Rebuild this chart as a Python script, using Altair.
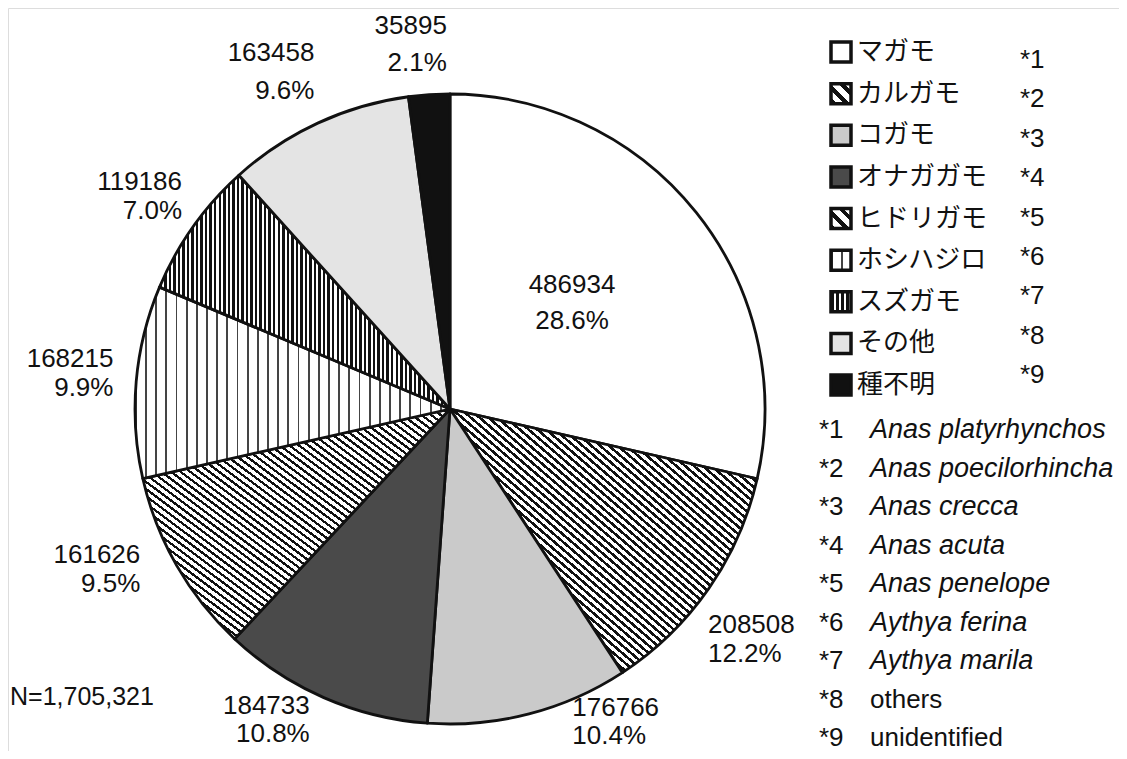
import math
import altair as alt
import pandas as pd

# ---------------- data ----------------
species_ja = ["マガモ", "カルガモ", "コガモ", "オナガガモ", "ヒドリガモ",
              "ホシハジロ", "スズガモ", "その他", "種不明"]
counts = [486934, 208508, 176766, 184733, 161626, 168215, 119186, 163458, 35895]
note_marks = ["*1", "*2", "*3", "*4", "*5", "*6", "*7", "*8", "*9"]
sci_names = ["Anas platyrhynchos", "Anas poecilorhincha", "Anas crecca",
             "Anas acuta", "Anas penelope", "Aythya ferina", "Aythya marila",
             "others", "unidentified"]
sci_italic = [True, True, True, True, True, True, True, False, False]

total = sum(counts)

# ---------------- styling helpers ----------------
def stripe_grad(n, frac, dark, light, x1, y1, x2, y2):
    stops = []
    for i in range(n):
        a = round(i / n, 5)
        b = round((i + frac) / n, 5)
        c = round((i + 1) / n, 5)
        stops += [{"offset": a, "color": dark}, {"offset": b, "color": dark},
                  {"offset": b, "color": light}, {"offset": c, "color": light}]
    return {"gradient": "linear", "x1": x1, "y1": y1, "x2": x2, "y2": y2,
            "stops": stops}

slice_fill = {
    "マガモ": "#ffffff",
    "カルガモ": stripe_grad(70, 0.45, "#111111", "#ffffff", 0, 1, 1, 0),
    "コガモ": "#cacaca",
    "オナガガモ": "#4a4a4a",
    "ヒドリガモ": stripe_grad(64, 0.40, "#111111", "#ffffff", 0, 1, 1, 0),
    "ホシハジロ": stripe_grad(31, 0.18, "#444444", "#ffffff", 0, 0, 1, 0),
    "スズガモ": stripe_grad(64, 0.55, "#111111", "#ffffff", 0, 0, 1, 0),
    "その他": "#e4e4e4",
    "種不明": "#111111",
}
legend_fill = {
    "マガモ": "#ffffff",
    "カルガモ": stripe_grad(3, 0.45, "#111111", "#ffffff", 0, 1, 1, 0),
    "コガモ": "#cacaca",
    "オナガガモ": "#4a4a4a",
    "ヒドリガモ": stripe_grad(3, 0.40, "#111111", "#ffffff", 0, 1, 1, 0),
    "ホシハジロ": stripe_grad(2, 0.25, "#444444", "#ffffff", 0, 0, 1, 0),
    "スズガモ": stripe_grad(4, 0.55, "#111111", "#ffffff", 0, 0, 1, 0),
    "その他": "#e4e4e4",
    "種不明": "#111111",
}
# label layout: radius from centre, offsets, line height, alignment
label_layout = {
    "マガモ": (160, -3, -24, 36, "center"),
    "カルガモ": (330, -13, 28, 29, "left"),
    "コガモ": (320, 42, -11, 28, "left"),
    "オナガガモ": (330, -8, -5, 28, "right"),
    "ヒドリガモ": (380, 20, -43, 29, "right"),
    "ホシハジロ": (380, 42, -17, 29, "right"),
    "スズガモ": (380, 42, -7, 29, "right"),
    "その他": (380, 24, -11, 38, "right"),
    "種不明": (380, 22, -4, 37, "right"),
}

CX, CY, R = 442, 401, 315
NUM_FONT = "Liberation Sans, Arial, sans-serif"
LAT_FONT = "Liberation Sans, Arial, sans-serif"
JA_FONT = "Noto Sans CJK JP"

df = pd.DataFrame({
    "species": species_ja,
    "count": counts,
    "order": list(range(len(species_ja))),
})
df["label"] = [f"{c}\n{c / total * 100:.1f}%" for c in counts]

theta_scale = alt.Scale(domain=[0, total], range=[0, 2 * math.pi])

base = alt.Chart(df).transform_window(
    cum="sum(count)", sort=[alt.SortField("order")], frame=[None, 0]
).transform_calculate(
    start="datum.cum - datum.count",
    mid="datum.cum - datum.count / 2",
)

layers = []
for i, sp in enumerate(species_ja):
    layers.append(
        base.transform_filter(alt.datum.order == i).mark_arc(
            outerRadius=R, fill=slice_fill[sp], stroke="#111111",
            strokeWidth=2.8, strokeJoin="round"
        ).encode(
            theta=alt.Theta("start:Q", scale=theta_scale),
            theta2="cum:Q",
            x=alt.value(CX), y=alt.value(CY),
        )
    )

for i, sp in enumerate(species_ja):
    r, dx, dy, lh, al = label_layout[sp]
    layers.append(
        base.transform_filter(alt.datum.order == i).mark_text(
            radius=r, dx=dx, dy=dy, lineBreak="\n", lineHeight=lh,
            font=NUM_FONT, fontSize=26, color="#111111",
            align=al, baseline="middle"
        ).encode(
            theta=alt.Theta("mid:Q", scale=theta_scale),
            text="label:N",
            x=alt.value(CX), y=alt.value(CY),
        )
    )

# N label
ndf = pd.DataFrame({"txt": [f"N={total:,}"]})
layers.append(
    alt.Chart(ndf).mark_text(font=NUM_FONT, fontSize=25, color="#111111",
                             align="left", baseline="middle").encode(
        text="txt:N", x=alt.value(2), y=alt.value(689)
    )
)

# Japanese legend
leg_scale = alt.Scale(domain=[0, 8], range=[44, 377])
leg_df = pd.DataFrame({"species": species_ja, "order": list(range(9))})
for i, sp in enumerate(species_ja):
    layers.append(
        alt.Chart(leg_df).transform_filter(alt.datum.order == i).mark_square(
            size=400, fill=legend_fill[sp], stroke="#111111", strokeWidth=3.5,
            opacity=1
        ).encode(
            x=alt.value(833),
            y=alt.Y("order:Q", scale=leg_scale, axis=None),
        )
    )
layers.append(
    alt.Chart(leg_df).mark_text(font=JA_FONT, fontSize=26, align="left",
                                baseline="middle", color="#111111").encode(
        x=alt.value(849),
        y=alt.Y("order:Q", scale=leg_scale, axis=None),
        text="species:N",
    )
)

# *n column beside legend
mark_df = pd.DataFrame({"mark": note_marks, "order": list(range(9))})
layers.append(
    alt.Chart(mark_df).mark_text(font=LAT_FONT, fontSize=26, align="left",
                                 baseline="middle", color="#111111").encode(
        x=alt.value(1012),
        y=alt.Y("order:Q", scale=alt.Scale(domain=[0, 8], range=[52, 367]),
                axis=None),
        text="mark:N",
    )
)

# notes with scientific names
note_df = pd.DataFrame({"mark": note_marks, "name": sci_names,
                        "italic": sci_italic, "order": list(range(9))})
note_scale = alt.Scale(domain=[0, 8], range=[422, 730])
layers.append(
    alt.Chart(note_df).mark_text(font=LAT_FONT, fontSize=26, align="left",
                                 baseline="middle", color="#111111").encode(
        x=alt.value(811),
        y=alt.Y("order:Q", scale=note_scale, axis=None),
        text="mark:N",
    )
)
layers.append(
    alt.Chart(note_df).transform_filter(alt.datum.italic == True).mark_text(
        font=LAT_FONT, fontSize=27, fontStyle="italic", align="left",
        baseline="middle", color="#111111").encode(
        x=alt.value(862),
        y=alt.Y("order:Q", scale=note_scale, axis=None),
        text="name:N",
    )
)
layers.append(
    alt.Chart(note_df).transform_filter(alt.datum.italic == False).mark_text(
        font=LAT_FONT, fontSize=26, align="left",
        baseline="middle", color="#111111").encode(
        x=alt.value(862),
        y=alt.Y("order:Q", scale=note_scale, axis=None),
        text="name:N",
    )
)

chart = alt.layer(*layers).resolve_scale(y="independent").properties(
    width=1111, height=743,
    autosize=alt.AutoSizeParams(type="none"),
    padding=0,
).configure_view(stroke=None).configure(background="#ffffff")

chart.save("out.html", embed_options={"renderer": "svg", "actions": False})
